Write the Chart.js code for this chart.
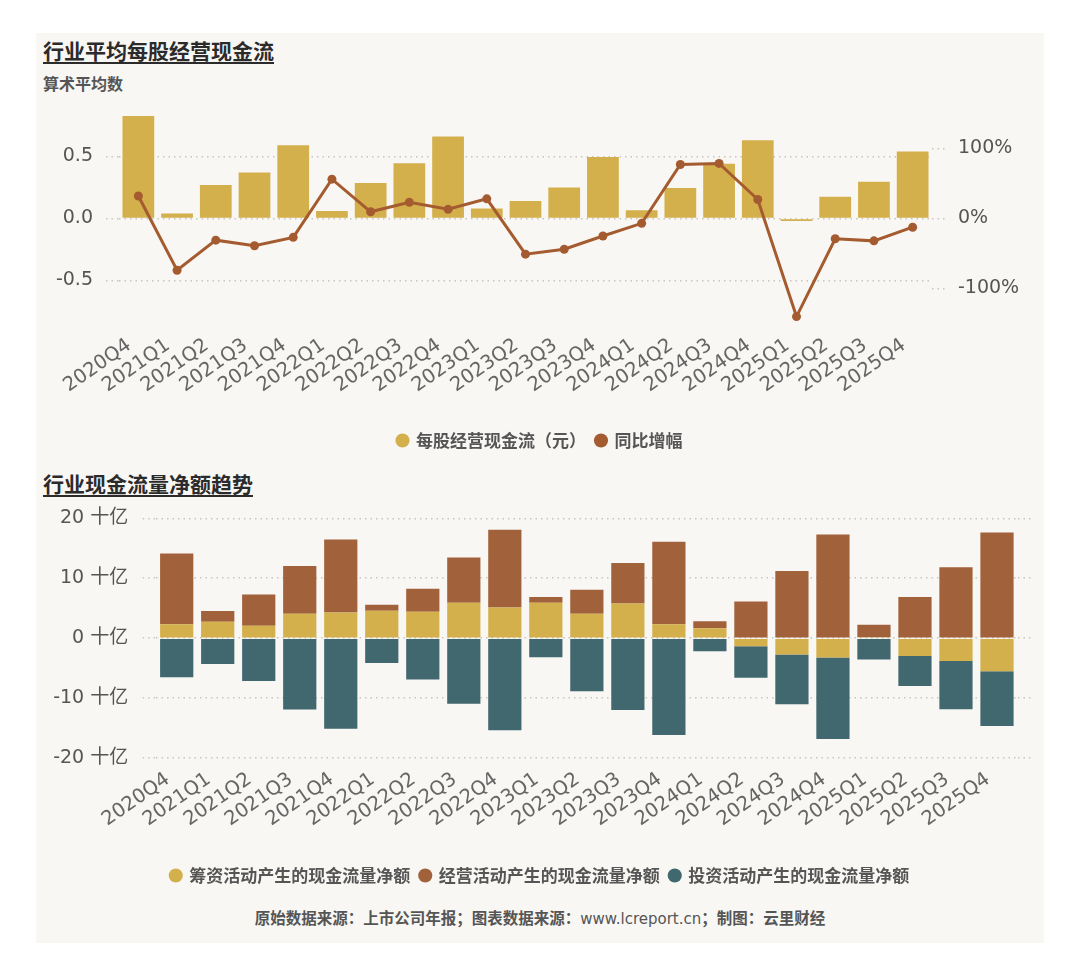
<!DOCTYPE html>
<html>
<head>
<meta charset="utf-8">
<script src="https://cdn.jsdelivr.net/npm/chart.js@4.4.1/dist/chart.umd.min.js"></script>
<style>
  body { margin: 0; background: #fff; width: 1080px; height: 978px; position: relative; overflow: hidden;
         font-family: "Noto Sans CJK SC", sans-serif; }
  #panel { position: absolute; left: 36px; top: 33px; width: 1008px; height: 910px; background: #f9f7f4; }
  .title { position: absolute; left: 43px; font-size: 21px; font-weight: bold; color: #2b2b2b; line-height: 1;
           text-decoration: underline; text-underline-offset: 3px; text-decoration-thickness: 2px; }
  .sub { position: absolute; left: 43px; top: 75px; font-size: 16px; font-weight: bold; color: #555; line-height: 1; }
  .box { position: absolute; left: 36px; width: 1008px; }
  #foot { position: absolute; left: 0; width: 1080px; top: 910px; text-align: center; font-size: 15.5px;
          font-weight: bold; color: #555; line-height: 1; }
  #foot span { font-weight: normal; font-family: "DejaVu Sans", sans-serif; font-size: 15px; }
</style>
</head>
<body>
<div id="panel"></div>
<div class="title" style="top:40px">行业平均每股经营现金流</div>
<div class="sub">算术平均数</div>
<div class="box" style="top:95px;height:364px"><canvas id="perShareChart"></canvas></div>
<div class="title" style="top:473px">行业现金流量净额趋势</div>
<div class="box" style="top:505px;height:389px"><canvas id="netFlowChart"></canvas></div>
<div id="foot">原始数据来源：上市公司年报；图表数据来源：<span>www.lcreport.cn</span>；制图：云里财经</div>

<script>
// quarters shared by both charts
const quarters = ['2020Q4', '2021Q1', '2021Q2', '2021Q3', '2021Q4', '2022Q1', '2022Q2', '2022Q3', '2022Q4',
  '2023Q1', '2023Q2', '2023Q3', '2023Q4', '2024Q1', '2024Q2', '2024Q3', '2024Q4', '2025Q1', '2025Q2', '2025Q3', '2025Q4'];

// top chart: average operating cash flow per share (yuan) and YoY change (%)
const perShare = [0.825, 0.04, 0.27, 0.37, 0.59, 0.06, 0.285, 0.445, 0.66, 0.08, 0.14,
  0.25, 0.495, 0.067, 0.245, 0.44, 0.63, -0.02, 0.175, 0.295, 0.54];
const yoy = [32, -74, -31, -39, -27, 56, 9.5, 23, 13, 28, -51,
  -44, -25, -7, 77, 78.5, 27, -140, -29, -32, -12.5];
const perShareTicks = [-0.5, 0, 0.5];
const yoyTicks = [-100, 0, 100];

// bottom chart: net cash flows, in 十亿
const financing = [2.34, 2.73, 2.06, 4.07, 4.29, 4.57, 4.40, 5.91, 5.12, 5.91, 4.07,
  5.80, 2.34, 1.67, -1.34, -2.74, -3.24, 0.15, -2.96, -3.80, -5.52];
const operating = [11.8, 1.79, 5.24, 7.98, 12.16, 1.0, 3.85, 7.53, 12.95, 0.95, 4.01,
  6.75, 13.73, 1.17, 6.13, 11.21, 17.29, 2.1, 6.86, 11.82, 17.62];
const investing = [-6.53, -4.30, -7.15, -11.9, -15.1, -4.13, -6.92, -10.94, -15.35, -3.18, -8.87,
  -12.0, -16.18, -2.18, -5.25, -8.31, -13.61, -3.57, -5.02, -8.08, -9.16];
const flowTicks = [-20, -10, 0, 10, 20];
const flowUnit = ' 十亿';

const gold = '#d3b04b';
const rust = '#a1613a';
const lineRust = '#a55b30';
const teal = '#41676f';
const gridColor = '#c9c5c0';
const dots = [1.5, 4];

Chart.defaults.font.family = '"DejaVu Sans", "Noto Sans CJK SC", sans-serif';
Chart.defaults.color = '#555';
Chart.defaults.animation = false;

const legendOpts = {
  position: 'bottom',
  labels: {
    usePointStyle: true, pointStyle: 'circle', boxWidth: 10, boxHeight: 10, padding: 10,
    color: '#555', font: { family: '"Noto Sans CJK SC", sans-serif', size: 17, weight: 'bold' },
    sort: (a, b) => a.datasetIndex - b.datasetIndex
  }
};

const xTicks = {
  minRotation: 35, maxRotation: 35, autoSkip: false, padding: 10, labelOffset: -9,
  color: '#666', font: { size: 19.5 }
};

// keep the value axes from reserving half a label above/below the plot
const noPad = s => { s.paddingTop = 0; s.paddingBottom = 0; };

const ctx = document.getElementById('perShareChart').getContext('2d');
const perShareChart = new Chart(ctx, {
  data: {
    labels: quarters,
    datasets: [{
      type: 'bar',
      label: '每股经营现金流（元）',
      data: perShare,
      backgroundColor: gold,
      yAxisID: 'y',
      categoryPercentage: 1,
      barPercentage: 0.82,
      order: 1
    }, {
      type: 'line',
      label: '同比增幅',
      data: yoy,
      borderColor: lineRust,
      backgroundColor: lineRust,
      borderWidth: 3,
      pointRadius: 4.5,
      pointBackgroundColor: lineRust,
      pointBorderWidth: 0,
      yAxisID: 'y2',
      order: 0
    }]
  },
  options: {
    responsive: true,
    maintainAspectRatio: false,
    layout: { padding: { top: 11.7, left: 0, right: 0, bottom: 0 } },
    plugins: { legend: legendOpts, tooltip: { enabled: false } },
    scales: {
      x: {
        grid: { display: false, drawTicks: false },
        border: { display: false },
        ticks: xTicks,
        afterFit: s => { s.height = 98; }
      },
      y: {
        position: 'left',
        min: -0.85, max: 0.9,
        afterBuildTicks: s => { s.ticks = perShareTicks.map(v => ({ value: v })); },
        afterFit: s => { s.width = 83; noPad(s); },
        grid: { color: gridColor, lineWidth: 1.5, tickLength: 13, tickBorderDash: dots, tickColor: gridColor },
        border: { display: false, dash: dots },
        ticks: { padding: 13, font: { size: 19 }, color: '#555', callback: v => v.toFixed(1) }
      },
      y2: {
        position: 'right',
        min: -150.6, max: 159.4,
        afterBuildTicks: s => { s.ticks = yoyTicks.map(v => ({ value: v })); },
        afterFit: s => { s.width = 112; noPad(s); },
        grid: { drawOnChartArea: false, color: gridColor, lineWidth: 1.5, tickLength: 13, tickBorderDash: dots, tickColor: gridColor },
        border: { display: false, dash: dots },
        ticks: { padding: 13, font: { size: 19 }, color: '#555', callback: v => v + '%' }
      }
    }
  }
});

const ctx2 = document.getElementById('netFlowChart').getContext('2d');
const netFlowChart = new Chart(ctx2, {
  type: 'bar',
  data: {
    labels: quarters,
    datasets: [{
      label: '筹资活动产生的现金流量净额',
      data: financing,
      backgroundColor: gold
    }, {
      label: '经营活动产生的现金流量净额',
      data: operating,
      backgroundColor: rust
    }, {
      label: '投资活动产生的现金流量净额',
      data: investing,
      backgroundColor: teal
    }]
  },
  options: {
    responsive: true,
    maintainAspectRatio: false,
    categoryPercentage: 1,
    barPercentage: 0.81,
    layout: { padding: { top: 13.3, left: 0, right: 0, bottom: 0 } },
    plugins: { legend: legendOpts, tooltip: { enabled: false } },
    scales: {
      x: {
        stacked: true,
        grid: { display: false, drawTicks: false },
        border: { display: false },
        ticks: xTicks,
        afterFit: s => { s.height = 99; }
      },
      y: {
        stacked: true,
        min: -20, max: 20,
        afterBuildTicks: s => { s.ticks = flowTicks.map(v => ({ value: v })); },
        afterFit: s => { s.width = 120.2; noPad(s); },
        grid: { color: gridColor, lineWidth: 1.5, tickLength: 13.5, tickBorderDash: dots, tickColor: gridColor },
        border: { display: false, dash: dots },
        ticks: { padding: 14.5, font: { size: 19 }, color: '#555', callback: v => v + flowUnit }
      },
      // right side only carries the dotted tick stubs, no labels
      yRight: {
        position: 'right',
        min: -20, max: 20,
        afterBuildTicks: s => { s.ticks = flowTicks.map(v => ({ value: v })); },
        afterFit: s => { s.width = 26.5; noPad(s); },
        grid: { drawOnChartArea: false, color: gridColor, lineWidth: 1.5, tickLength: 15, tickBorderDash: dots, tickColor: gridColor },
        border: { display: false },
        ticks: { display: false }
      }
    }
  }
});
</script>
</body>
</html>
